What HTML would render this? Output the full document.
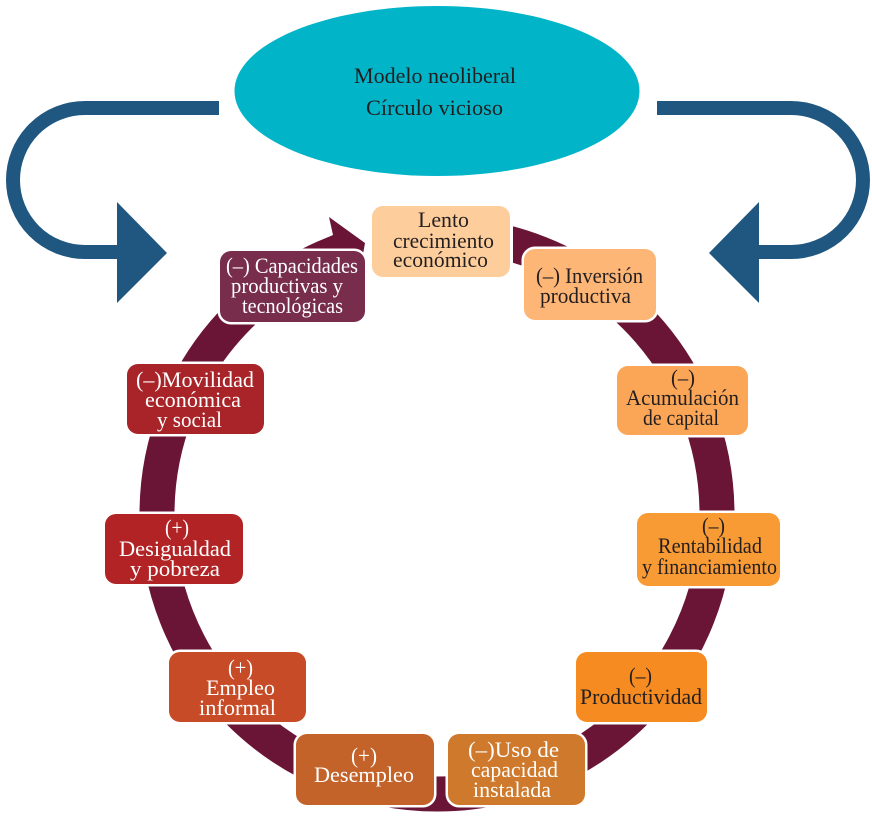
<!DOCTYPE html>
<html><head><meta charset="utf-8"><style>
html,body{margin:0;padding:0;background:#fff}
svg{display:block}
text{font-family:"Liberation Serif",serif;font-size:22px;text-anchor:start}
.d{fill:#231f20}.w{fill:#fff}
.h{fill:#fff;stroke:#fff;stroke-width:5}
</style></head><body>
<svg width="872" height="816" viewBox="0 0 872 816" xmlns="http://www.w3.org/2000/svg">
<rect width="872" height="816" fill="#fff"/>
<ellipse cx="437" cy="91" rx="202.5" ry="85" fill="#02b4c8"/>
<path d="M219 108H85A72 72 0 0 0 85 252H120" fill="none" stroke="#1f5780" stroke-width="14"/>
<polygon points="117,202 167,253 117,303" fill="#1f5780"/>
<path d="M657 108H791A72 72 0 0 1 791 252H756" fill="none" stroke="#1f5780" stroke-width="14"/>
<polygon points="759,202 709,253 759,303" fill="#1f5780"/>
<circle cx="437" cy="514" r="280" fill="none" stroke="#6a1535" stroke-width="35"/>
<rect x="333" y="200" width="180" height="100" fill="#fff"/>
<polygon points="329,217 333,235 300,250 300,290 362,260 365,243" fill="#6a1535"/>

<g class="h">
<rect x="372" y="206" width="138" height="71" rx="11"/>
<rect x="524" y="249" width="132" height="71" rx="11"/>
<rect x="617" y="366" width="131" height="69" rx="11"/>
<rect x="637" y="513" width="143" height="73" rx="11"/>
<rect x="576" y="652" width="131" height="70" rx="11"/>
<rect x="448" y="734" width="137" height="71" rx="11"/>
<rect x="296" y="734" width="138" height="71" rx="11"/>
<rect x="169" y="652" width="137" height="70" rx="11"/>
<rect x="105" y="514" width="138" height="70" rx="11"/>
<rect x="127" y="364" width="137" height="70" rx="11"/>
<rect x="220" y="251" width="145" height="71" rx="11"/>
</g>
<rect x="372" y="206" width="138" height="71" rx="11" fill="#fdcd9c"/>
<rect x="524" y="249" width="132" height="71" rx="11" fill="#fdb676"/>
<rect x="617" y="366" width="131" height="69" rx="11" fill="#fba556"/>
<rect x="637" y="513" width="143" height="73" rx="11" fill="#f99b35"/>
<rect x="576" y="652" width="131" height="70" rx="11" fill="#f68b21"/>
<rect x="448" y="734" width="137" height="71" rx="11" fill="#ce792b"/>
<rect x="296" y="734" width="138" height="71" rx="11" fill="#c36229"/>
<rect x="169" y="652" width="137" height="70" rx="11" fill="#c84b27"/>
<rect x="105" y="514" width="138" height="70" rx="11" fill="#b12325"/>
<rect x="127" y="364" width="137" height="70" rx="11" fill="#a82428"/>
<rect x="220" y="251" width="145" height="71" rx="11" fill="#772d4b"/>

<g class="d">
<text x="354" y="83" textLength="162" lengthAdjust="spacingAndGlyphs">Modelo neoliberal</text>
<text x="366" y="115" textLength="137" lengthAdjust="spacingAndGlyphs">Círculo vicioso</text>
<text x="418" y="227" textLength="51" lengthAdjust="spacingAndGlyphs">Lento</text>
<text x="393" y="248" textLength="101" lengthAdjust="spacingAndGlyphs">crecimiento</text>
<text x="393" y="267" textLength="95" lengthAdjust="spacingAndGlyphs">económico</text>
<text x="536" y="283" textLength="107" lengthAdjust="spacingAndGlyphs">(–) Inversión</text>
<text x="540" y="303" textLength="91" lengthAdjust="spacingAndGlyphs">productiva</text>
<text x="671" y="385" textLength="24" lengthAdjust="spacingAndGlyphs">(–)</text>
<text x="626" y="405" textLength="113" lengthAdjust="spacingAndGlyphs">Acumulación</text>
<text x="643" y="425" textLength="76" lengthAdjust="spacingAndGlyphs">de capital</text>
<text x="702" y="533" textLength="23" lengthAdjust="spacingAndGlyphs">(–)</text>
<text x="658" y="553" textLength="104" lengthAdjust="spacingAndGlyphs">Rentabilidad</text>
<text x="642" y="574" textLength="135" lengthAdjust="spacingAndGlyphs">y financiamiento</text>
<text x="629" y="683" textLength="23" lengthAdjust="spacingAndGlyphs">(–)</text>
<text x="580" y="704" textLength="122" lengthAdjust="spacingAndGlyphs">Productividad</text>
</g>
<g class="w">
<text x="468" y="757" textLength="91" lengthAdjust="spacingAndGlyphs">(–)Uso de</text>
<text x="471" y="777" textLength="87" lengthAdjust="spacingAndGlyphs">capacidad</text>
<text x="473" y="797" textLength="78" lengthAdjust="spacingAndGlyphs">instalada</text>
<text x="351" y="763" textLength="26" lengthAdjust="spacingAndGlyphs">(+)</text>
<text x="314" y="782" textLength="100" lengthAdjust="spacingAndGlyphs">Desempleo</text>
<text x="228" y="675" textLength="25" lengthAdjust="spacingAndGlyphs">(+)</text>
<text x="206" y="695" textLength="69" lengthAdjust="spacingAndGlyphs">Empleo</text>
<text x="199" y="715" textLength="77" lengthAdjust="spacingAndGlyphs">informal</text>
<text x="165" y="535" textLength="24" lengthAdjust="spacingAndGlyphs">(+)</text>
<text x="119" y="556" textLength="112" lengthAdjust="spacingAndGlyphs">Desigualdad</text>
<text x="130" y="576" textLength="90" lengthAdjust="spacingAndGlyphs">y pobreza</text>
<text x="136" y="387" textLength="118" lengthAdjust="spacingAndGlyphs">(–)Movilidad</text>
<text x="145" y="407" textLength="96" lengthAdjust="spacingAndGlyphs">económica</text>
<text x="157" y="427" textLength="65" lengthAdjust="spacingAndGlyphs">y social</text>
<text x="226" y="273" textLength="132" lengthAdjust="spacingAndGlyphs">(–) Capacidades</text>
<text x="231" y="293" textLength="112" lengthAdjust="spacingAndGlyphs">productivas y</text>
<text x="242" y="313" textLength="101" lengthAdjust="spacingAndGlyphs">tecnológicas</text>
</g>
</svg>
</body></html>
